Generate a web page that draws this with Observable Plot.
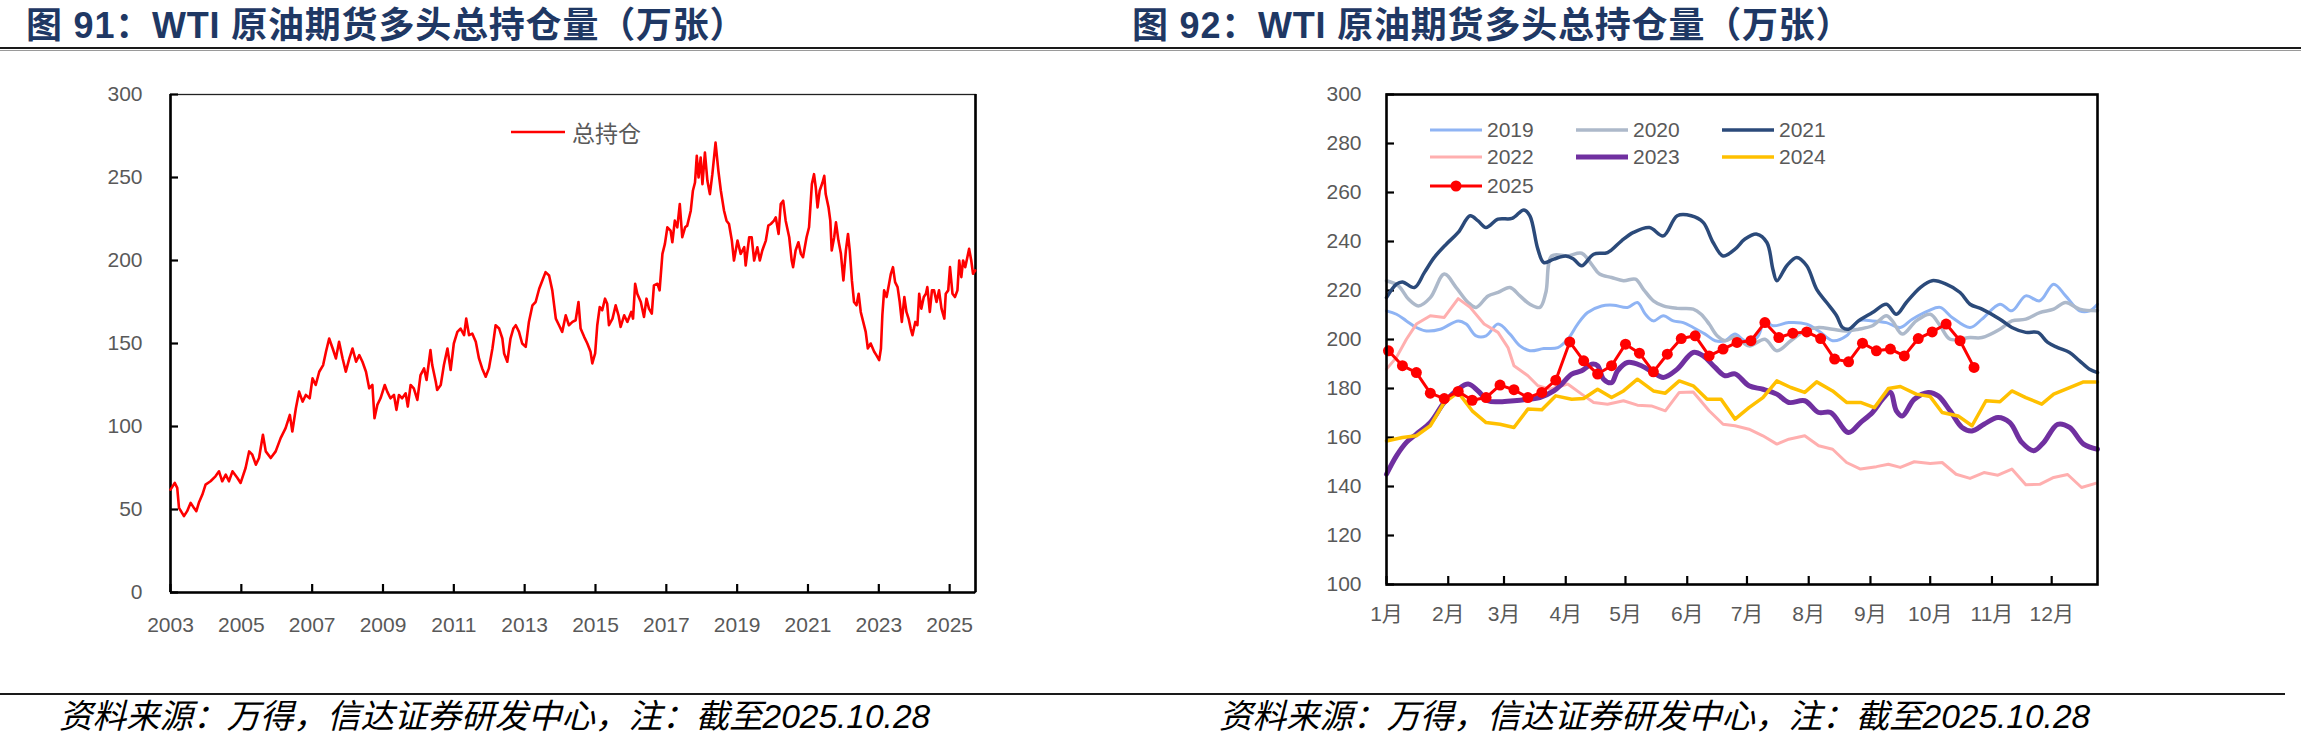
<!DOCTYPE html>
<html><head><meta charset="utf-8">
<script src="https://cdn.jsdelivr.net/npm/d3@7"></script>
<script src="https://cdn.jsdelivr.net/npm/@observablehq/plot@0.6"></script>
<style>
body{margin:0;background:#fff;}
#page{position:relative;width:2301px;height:750px;overflow:hidden;background:#fff;font-family:"Liberation Sans","Noto Sans CJK SC",sans-serif;}
.title{position:absolute;top:4px;font-size:36px;font-weight:bold;color:#1F3864;white-space:nowrap;line-height:44px;letter-spacing:0.8px;font-family:"Liberation Sans","Noto Sans CJK SC",sans-serif;}
.rule{position:absolute;left:0;}
.source{position:absolute;top:697px;font-size:33.5px;font-style:italic;color:#000;line-height:40px;white-space:nowrap;font-family:"Liberation Sans","Noto Sans CJK SC",sans-serif;}
.chart{position:absolute;top:0;}
.leg{position:absolute;display:flex;align-items:center;white-space:nowrap;color:#595959;font-size:21px;height:26px;}
.leg svg{display:block;margin-right:5px;}
</style></head>
<body><div id="page"></div>
<script>
// ---------------- data ----------------
const titleLeft = "图 91：WTI 原油期货多头总持仓量（万张）";
const titleRight = "图 92：WTI 原油期货多头总持仓量（万张）";
const sourceText = "资料来源：万得，信达证券研发中心，注：截至2025.10.28";
const leftLegend = "总持仓";

const histYear = [
2003.00,2003.12,2003.19,2003.24,2003.38,2003.47,2003.57,2003.66,2003.73,2003.80,2003.90,2003.99,
2004.13,2004.27,2004.37,2004.46,2004.56,2004.65,2004.75,2004.89,2004.98,
2005.12,2005.22,2005.31,2005.41,2005.50,2005.61,2005.69,2005.83,2005.97,
2006.11,2006.25,2006.37,2006.44,2006.54,2006.63,2006.73,2006.82,2006.93,
2007.01,2007.10,2007.20,2007.31,2007.39,2007.48,2007.58,2007.67,2007.76,2007.86,2007.95,
2008.05,2008.14,2008.24,2008.33,2008.42,2008.52,2008.61,2008.70,2008.76,2008.84,2008.93,
2009.05,2009.12,2009.21,2009.31,2009.38,2009.45,2009.54,2009.64,2009.70,2009.78,2009.87,2009.97,
2010.06,2010.16,2010.23,2010.34,2010.39,2010.49,2010.53,2010.63,2010.72,2010.82,2010.91,
2011.00,2011.10,2011.19,2011.29,2011.35,2011.43,2011.52,2011.62,2011.71,2011.80,2011.90,2011.99,
2012.09,2012.18,2012.28,2012.37,2012.42,2012.51,2012.60,2012.68,2012.75,2012.84,2012.93,
2013.03,2013.12,2013.22,2013.31,2013.41,2013.50,2013.59,2013.69,2013.78,2013.88,2013.97,
2014.06,2014.16,2014.25,2014.35,2014.44,2014.52,2014.58,2014.68,2014.77,2014.86,2014.91,2014.99,
2015.05,2015.12,2015.19,2015.27,2015.33,2015.38,2015.48,2015.57,2015.65,2015.71,2015.81,2015.90,
2016.01,2016.06,2016.12,2016.18,2016.28,2016.37,2016.44,2016.51,2016.59,2016.65,2016.75,2016.81,2016.89,2016.96,
2017.03,2017.12,2017.17,2017.24,2017.31,2017.38,2017.45,2017.53,2017.59,2017.69,2017.75,2017.81,2017.86,2017.91,2017.97,
2018.02,2018.09,2018.16,2018.23,2018.30,2018.39,2018.47,2018.54,2018.63,2018.70,2018.77,2018.85,2018.91,
2019.01,2019.10,2019.20,2019.24,2019.34,2019.41,2019.48,2019.57,2019.64,2019.71,2019.81,2019.88,2019.95,
2020.04,2020.09,2020.17,2020.23,2020.30,2020.37,2020.47,2020.54,2020.58,2020.65,2020.73,2020.80,2020.86,2020.96,
2021.03,2021.11,2021.17,2021.22,2021.27,2021.33,2021.41,2021.46,2021.50,2021.58,2021.63,2021.67,2021.74,2021.79,2021.86,2021.93,
2022.00,2022.07,2022.13,2022.18,2022.24,2022.30,2022.37,2022.43,2022.49,2022.56,2022.63,2022.69,2022.77,2022.87,2022.93,
2023.01,2023.06,2023.10,2023.15,2023.22,2023.29,2023.34,2023.40,2023.46,2023.53,2023.59,2023.65,2023.72,2023.78,2023.84,2023.90,2023.95,
2024.03,2024.09,2024.14,2024.20,2024.27,2024.33,2024.37,2024.44,2024.50,2024.56,2024.63,2024.70,2024.77,2024.85,2024.89,2024.96,
2025.01,2025.08,2025.15,2025.22,2025.27,2025.33,2025.38,2025.44,2025.50,2025.55,2025.61,2025.66,2025.72
];
const histValue = [
62,66,63,51,46,49,54,51,49,54,59,65,
67,70,73,67,71,67,73,69,66,
75,85,83,77,81,95,85,81,85,
93,99,107,97,111,121,115,119,117,
129,125,133,137,145,153,147,141,151,141,133,
141,147,139,143,139,133,123,125,105,113,117,
125,121,117,119,110,119,117,120,112,125,123,116,
131,135,128,146,137,127,122,125,137,147,134,
150,157,159,155,165,155,156,151,141,135,130,135,
147,161,159,153,144,139,153,159,161,157,150,
148,163,173,175,183,188,193,191,182,165,161,
157,167,161,163,164,175,159,154,150,145,138,144,
161,172,170,177,174,161,165,173,167,160,167,163,
169,165,186,180,175,166,177,171,168,185,186,182,204,210,
220,218,211,224,220,234,214,220,221,230,242,247,263,250,262,
246,265,248,240,252,271,254,242,230,224,222,212,200,
212,204,208,197,214,214,200,208,200,206,212,221,222,
224,226,216,234,236,224,214,200,196,206,211,204,202,214,
220,246,252,244,232,242,247,251,240,232,224,206,214,223,212,204,
188,206,216,206,188,175,173,180,169,163,157,147,150,145,143,
140,147,167,182,178,186,192,196,187,184,175,163,178,169,165,159,155,
163,161,180,171,178,180,184,169,182,182,175,182,171,165,180,182,
196,180,178,182,200,190,200,196,202,207,200,192,194
];
const histXTicks = [2003,2005,2007,2009,2011,2013,2015,2017,2019,2021,2023,2025];
const histYTicks = [0,50,100,150,200,250,300];

// seasonal chart: [day of year, value]
const s2019 = [[0,211.7],[5,210.3],[10,207.6],[15,204.9],[20,203.5],[27,204.2],[36,207.6],[40,206.3],[45,201.5],[50,201.5],[56,206.3],[62,202.2],[67,197.4],[72,195.4],[79,196.3],[86,196.7],[91,200.1],[96,206.3],[101,211],[108,213.7],[114,214],[121,213.1],[126,215.1],[130,210.3],[134,207.6],[139,209.7],[144,207.6],[149,206.9],[154,204.9],[160,202.2],[165,199.5],[170,199.5],[175,202.2],[180,199.5],[186,200.8],[190,207.6],[194,205.6],[202,206.9],[211,206.3],[217,203.5],[224,199.5],[231,201.5],[237,207.6],[244,207.6],[251,206.9],[258,204.9],[264,208.3],[272,211.7],[278,213.1],[284,209],[293,204.9],[299,208.3],[308,214.4],[314,211.7],[321,217.8],[328,215.8],[335,222.6],[341,217.8],[348,211.7],[353,211.7],[357,214.4]];
const s2020 = [[0,224],[6,221.9],[11,216.5],[16,213.7],[22,217.1],[29,226.7],[35,221.2],[41,215.1],[45,213.1],[51,217.8],[56,219.2],[62,221.2],[67,217.8],[72,214.4],[77,213.1],[80,219.2],[83,234.1],[91,234.1],[98,235.2],[103,230.7],[107,226.7],[113,225.3],[119,224],[125,224.6],[129,220.5],[134,215.8],[139,213.7],[146,212.7],[154,212.4],[158,210.3],[162,206.3],[166,201.5],[170,199.5],[175,201],[182,197.4],[190,200.1],[196,195.4],[203,199.5],[210,203.5],[217,204.9],[224,204.2],[231,203.5],[237,204.2],[244,205.6],[251,209.7],[254,207.6],[259,202.2],[266,207.6],[273,210.3],[278,205.6],[283,200.1],[293,200.8],[299,200.8],[308,204.2],[314,207.6],[321,208.3],[328,211],[335,212.4],[341,215.1],[348,212.4],[357,211.7]];
const s2021 = [[0,217.1],[5,222.6],[8,223.5],[14,221.2],[19,227.3],[24,233.5],[30,238.9],[36,243.7],[42,250.5],[46,248.4],[50,245.7],[56,249.1],[63,249.4],[69,252.9],[72,250.5],[76,236.9],[79,231.4],[84,232.8],[90,234.1],[94,232.8],[98,230.1],[104,234.8],[111,235.5],[118,240.3],[124,243.7],[132,245.7],[139,242.3],[146,250.5],[153,250.5],[159,247.8],[164,239.6],[169,234.1],[175,236.9],[180,241],[186,243],[191,239.6],[194,228.7],[196,224],[201,230.1],[206,233.5],[211,230.1],[216,220.5],[221,215.1],[226,209.7],[229,204.9],[232,204.2],[237,207.6],[244,211],[251,214.4],[256,210.3],[261,215.1],[268,221.2],[274,224],[281,222.6],[288,219.2],[293,214.4],[299,212.4],[308,208.3],[314,204.9],[321,202.9],[327,202.9],[332,198.8],[337,196.7],[343,194.7],[348,191.3],[353,187.9],[357,186.5]];
const s2022 = [[0,187.9],[5,192.7],[10,200.1],[15,206.3],[22,209.7],[29,209],[36,216.7],[42,213.1],[49,206.3],[56,202.9],[61,196.7],[64,189.3],[71,185.2],[76,181.1],[82,179.7],[91,181.8],[98,177.7],[104,174.3],[111,173.6],[119,175],[126,173.2],[133,172.9],[140,170.9],[147,178.4],[154,178.6],[162,170.9],[169,165.4],[175,164.8],[182,163.4],[189,160.7],[196,157.3],[202,159.3],[210,160.7],[217,156.6],[224,155.2],[231,149.8],[238,147.1],[246,148.1],[252,149.1],[258,147.8],[265,150.1],[273,149.4],[279,149.8],[286,145],[293,143.3],[300,145.7],[307,144.6],[314,147.1],[321,140.7],[328,140.9],[335,143.7],[342,144.9],[349,139.6],[356,141.3]];
const s2023 = [[0,145],[5,152.5],[10,158],[15,161.4],[22,166.1],[29,174.3],[36,179.7],[41,181.8],[46,179],[51,175],[57,174.6],[64,175],[71,175.6],[77,176.3],[84,179],[88,181.8],[93,185.9],[98,187.2],[103,189.9],[106,189.3],[109,183.8],[113,182.4],[116,187.2],[121,190.6],[128,189.3],[134,186.5],[139,184.5],[146,187.9],[154,194.7],[159,193.3],[165,188.6],[170,185.2],[175,186],[182,181.1],[189,179.7],[196,177.7],[202,174.3],[210,175],[217,170.2],[223,170.2],[232,162],[238,166.1],[244,170.2],[249,175.6],[253,178.4],[256,170.9],[259,168.8],[265,175.6],[272,178.4],[277,177],[283,170.9],[289,164.1],[294,162.7],[300,165.4],[307,168.2],[313,166.1],[319,158],[325,154.6],[330,158],[337,165.4],[343,164.1],[350,157.3],[357,155.2]];
const s2024 = [[0,158.6],[8,160],[15,160.7],[22,164.8],[29,174.3],[36,178.4],[43,170.9],[50,166.1],[57,165.4],[64,164.1],[71,171.6],[78,171.3],[85,177],[93,175.6],[99,175.9],[106,179.7],[113,176.3],[119,179],[126,183.8],[134,179],[140,178.1],[147,183.1],[154,181.1],[161,175.6],[168,175.6],[175,167.5],[182,172.2],[189,176.3],[196,183.1],[203,180.4],[210,178.4],[216,182.7],[224,179],[231,174.3],[238,174.3],[245,172.2],[252,180],[258,180.8],[266,177.7],[273,176.7],[279,170.2],[287,168.8],[294,164.8],[301,175],[308,174.6],[314,179],[321,176.3],[329,173.6],[335,177.7],[343,180.4],[350,182.7],[357,182.7]];
const v2025 = [195.4,189.3,186.5,178.1,175.9,178.8,175.2,176.3,181.4,179.5,176.3,178.4,183.4,199.0,191.3,185.9,189.3,198.1,194.4,186.8,194.0,200.4,201.5,193.3,196.1,198.8,199.5,206.9,200.8,202.6,203.1,200.4,192.0,190.9,198.5,195.4,196.1,193.3,200.4,203.1,206.3,199.5,188.6];
const monthStarts = [0,31,59,90,120,151,181,212,243,273,304,334];
const monthLabels = ["1月","2月","3月","4月","5月","6月","7月","8月","9月","10月","11月","12月"];
const seasonYTicks = [100,120,140,160,180,200,220,240,260,280,300];

// ---------------- styles ----------------
const seriesStyle = [
  {name:"2019", data:s2019, color:"#8FB4F4", width:3, curve:"catmull-rom"},
  {name:"2020", data:s2020, color:"#ADB9CA", width:3.5, curve:"catmull-rom"},
  {name:"2021", data:s2021, color:"#2B4A7A", width:3.5, curve:"catmull-rom"},
  {name:"2022", data:s2022, color:"#FFAFAF", width:3, curve:"linear"},
  {name:"2023", data:s2023, color:"#7030A0", width:5, curve:"catmull-rom"},
  {name:"2024", data:s2024, color:"#FFC000", width:3.5, curve:"linear"}
];
const style2025 = {name:"2025", color:"#FF0000", width:3, r:5.5};

const page = document.getElementById("page");
function el(tag, cls, css, text){
  const e = document.createElement(tag);
  if (cls) e.className = cls;
  if (css) Object.assign(e.style, css);
  if (text != null) e.textContent = text;
  page.appendChild(e);
  return e;
}

// titles, rules, sources
el("div","title",{left:"26px"},titleLeft);
el("div","title",{left:"1132px"},titleRight);
el("div","rule",{top:"47px",width:"2301px",height:"2px",background:"#1a1a1a"});
el("div","rule",{top:"50px",width:"2301px",height:"1px",background:"#9a9a9a"});
el("div","rule",{top:"693px",width:"2285px",height:"2px",background:"#1a1a1a"});
el("div","source",{left:"59px"},sourceText);
el("div","source",{left:"1219px"},sourceText);

const axisFont = "'Liberation Sans','Noto Sans CJK SC',sans-serif";

// ---------------- left chart ----------------
const hist = histYear.map((y,i)=>({year:y, value:histValue[i]}));
const xMaxL = 2025.73;
const left = Plot.plot({
  width:1000, height:660, marginLeft:170, marginRight:25, marginTop:94, marginBottom:68,
  style:{fontSize:"21px", fontFamily:axisFont, color:"#595959", background:"transparent", overflow:"visible"},
  x:{domain:[2003, xMaxL], label:null},
  y:{domain:[0,300], label:null},
  marks:[
    Plot.frame({stroke:"#222", strokeWidth:1.3}),
    Plot.ruleY([0], {stroke:"#000", strokeWidth:2.6}),
    Plot.ruleX([2003, xMaxL], {stroke:"#000", strokeWidth:2.6}),
    Plot.axisX(histXTicks, {tickSize:8, dy:-8, tickFormat:()=>"", stroke:"#000", strokeWidth:2.2}),
    Plot.axisY(histYTicks, {tickSize:8, dx:8, tickFormat:()=>"", stroke:"#000", strokeWidth:2.2}),
    Plot.axisX(histXTicks, {tickSize:0, tickPadding:25, tickFormat:d=>String(d), fill:"#595959", label:null}),
    Plot.axisY(histYTicks, {tickSize:0, tickPadding:28, tickFormat:d=>String(d), fill:"#595959", label:null}),
    Plot.line(hist, {x:"year", y:"value", stroke:"#FF0000", strokeWidth:2.6, strokeLinejoin:"round"})
  ]
});
const lw = el("div","chart",{left:"0px"}); lw.appendChild(left);

// left legend
function swatch(color, width, dot){
  const ns="http://www.w3.org/2000/svg";
  const s=document.createElementNS(ns,"svg");
  s.setAttribute("width","52"); s.setAttribute("height","14");
  const l=document.createElementNS(ns,"line");
  l.setAttribute("x1","0"); l.setAttribute("x2","52"); l.setAttribute("y1","7"); l.setAttribute("y2","7");
  l.setAttribute("stroke",color); l.setAttribute("stroke-width",width); l.setAttribute("stroke-linecap","round");
  s.appendChild(l);
  if (dot){const c=document.createElementNS(ns,"circle"); c.setAttribute("cx","26"); c.setAttribute("cy","7"); c.setAttribute("r",dot); c.setAttribute("fill",color); s.appendChild(c);}
  return s;
}
{
  const d = el("div","leg",{left:"511px", top:"119px", fontSize:"23px"});
  const sw = swatch("#FF0000", 2.6); sw.setAttribute("width","54"); sw.firstChild.setAttribute("x2","54");
  sw.style.marginRight="7px";
  d.appendChild(sw); d.appendChild(document.createTextNode(leftLegend));
}

// ---------------- right chart ----------------
const xMaxR = 357;
const lines = seriesStyle.map(s => Plot.line(s.data, {x:d=>d[0], y:d=>d[1], stroke:s.color, strokeWidth:s.width, curve:s.curve, strokeLinejoin:"round"}));
const d2025 = v2025.map((v,i)=>({day:1+7*i, value:v}));
const right = Plot.plot({
  width:920, height:660, marginLeft:186, marginRight:23, marginTop:94, marginBottom:76,
  style:{fontSize:"21px", fontFamily:axisFont, color:"#595959", background:"transparent", overflow:"visible"},
  x:{domain:[0, xMaxR], label:null},
  y:{domain:[100,300], label:null},
  marks:[
    Plot.axisX(monthStarts, {tickSize:8, dy:-8, tickFormat:()=>"", stroke:"#000", strokeWidth:2.2}),
    Plot.axisY(seasonYTicks, {tickSize:8, dx:8, tickFormat:()=>"", stroke:"#000", strokeWidth:2.2}),
    Plot.axisX(monthStarts, {tickSize:0, tickPadding:22, tickFormat:(d,i)=>monthLabels[i], fill:"#595959", label:null}),
    Plot.axisY(seasonYTicks, {tickSize:0, tickPadding:25, tickFormat:d=>String(d), fill:"#595959", label:null}),
    ...lines,
    Plot.line(d2025, {x:"day", y:"value", stroke:style2025.color, strokeWidth:style2025.width}),
    Plot.dot(d2025, {x:"day", y:"value", r:style2025.r, fill:style2025.color}),
    Plot.frame({stroke:"#000", strokeWidth:2.6})
  ]
});
const rw = el("div","chart",{left:"1200px"}); rw.appendChild(right);

// right legend
const legCols = [1430, 1576, 1722];
const legRows = [130, 157, 186];
const legItems = [...seriesStyle.map(s=>({name:s.name,color:s.color,width:s.width})), {name:style2025.name,color:style2025.color,width:style2025.width,dot:style2025.r}];
legItems.forEach((it,i)=>{
  const d = el("div","leg",{left:legCols[i%3]+"px", top:(legRows[Math.floor(i/3)]-13)+"px"});
  d.appendChild(swatch(it.color, it.width, it.dot));
  d.appendChild(document.createTextNode(it.name));
});
</script>
</body></html>
